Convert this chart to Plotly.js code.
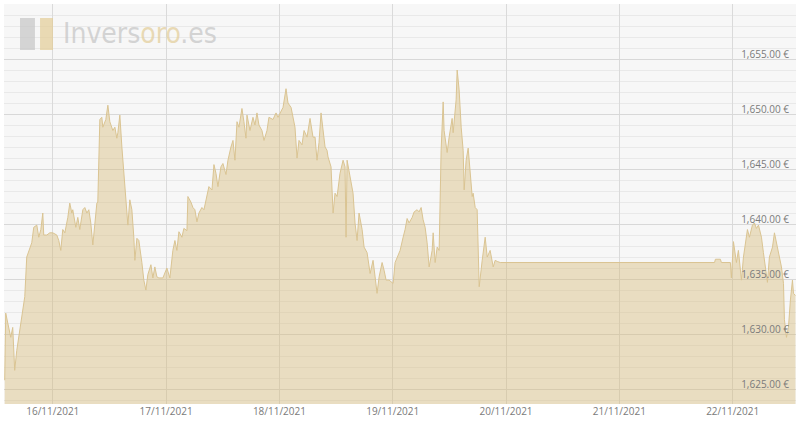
<!DOCTYPE html>
<html>
<head>
<meta charset="utf-8">
<script src="https://cdn.plot.ly/plotly-3.0.1.min.js"></script>
<style>
  html, body { margin: 0; padding: 0; background: #fff; }
  #grafico { width: 800px; height: 430px; }
</style>
</head>
<body>
<div id="grafico"></div>
<script>
// Precio del oro (EUR / onza), 15/11/2021 - 22/11/2021
const fechas = [
  "2021-11-15 13:49", "2021-11-15 14:02", "2021-11-15 14:28", "2021-11-15 15:06", "2021-11-15 15:31",
  "2021-11-15 15:56", "2021-11-15 16:22", "2021-11-15 17:00", "2021-11-15 17:38", "2021-11-15 18:04",
  "2021-11-15 18:29", "2021-11-15 18:55", "2021-11-15 19:33", "2021-11-15 19:58", "2021-11-15 20:37",
  "2021-11-15 21:02", "2021-11-15 21:28", "2021-11-15 21:53", "2021-11-15 22:05", "2021-11-15 22:44",
  "2021-11-15 23:22",
  "2021-11-16 00:00", "2021-11-16 00:51", "2021-11-16 01:16", "2021-11-16 01:42", "2021-11-16 02:07",
  "2021-11-16 02:33", "2021-11-16 03:11", "2021-11-16 03:36", "2021-11-16 04:02", "2021-11-16 04:14",
  "2021-11-16 04:53", "2021-11-16 05:18", "2021-11-16 05:43", "2021-11-16 06:22", "2021-11-16 06:47",
  "2021-11-16 07:13", "2021-11-16 07:38", "2021-11-16 08:03", "2021-11-16 08:29", "2021-11-16 08:54",
  "2021-11-16 09:20", "2021-11-16 09:32", "2021-11-16 09:58", "2021-11-16 10:23", "2021-11-16 10:36",
  "2021-11-16 11:14", "2021-11-16 11:40", "2021-11-16 12:05", "2021-11-16 12:43", "2021-11-16 13:09",
  "2021-11-16 13:34", "2021-11-16 13:47", "2021-11-16 14:12", "2021-11-16 14:38", "2021-11-16 15:03",
  "2021-11-16 15:29", "2021-11-16 15:54", "2021-11-16 16:19", "2021-11-16 16:45", "2021-11-16 17:10",
  "2021-11-16 17:23", "2021-11-16 17:49", "2021-11-16 18:14", "2021-11-16 18:52", "2021-11-16 19:17",
  "2021-11-16 19:43", "2021-11-16 20:08", "2021-11-16 20:47", "2021-11-16 21:12", "2021-11-16 21:37",
  "2021-11-16 22:03", "2021-11-16 22:28", "2021-11-16 23:19",
  "2021-11-17 00:10", "2021-11-17 00:48", "2021-11-17 01:26", "2021-11-17 01:52", "2021-11-17 02:17",
  "2021-11-17 02:43", "2021-11-17 03:21", "2021-11-17 03:46", "2021-11-17 04:25", "2021-11-17 04:37",
  "2021-11-17 05:15", "2021-11-17 05:41", "2021-11-17 06:06", "2021-11-17 06:32", "2021-11-17 06:57",
  "2021-11-17 07:35", "2021-11-17 08:01", "2021-11-17 08:39", "2021-11-17 09:04", "2021-11-17 09:43",
  "2021-11-17 10:08", "2021-11-17 10:34", "2021-11-17 10:59", "2021-11-17 11:37", "2021-11-17 12:02",
  "2021-11-17 12:41", "2021-11-17 13:06", "2021-11-17 13:44", "2021-11-17 14:10", "2021-11-17 14:35",
  "2021-11-17 15:01", "2021-11-17 15:26", "2021-11-17 16:04", "2021-11-17 16:29", "2021-11-17 16:55",
  "2021-11-17 17:08", "2021-11-17 17:46", "2021-11-17 18:24", "2021-11-17 18:49", "2021-11-17 19:15",
  "2021-11-17 19:40", "2021-11-17 20:18", "2021-11-17 20:44", "2021-11-17 21:22", "2021-11-17 21:47",
  "2021-11-17 22:38", "2021-11-17 23:17", "2021-11-17 23:42",
  "2021-11-18 00:20", "2021-11-18 00:46", "2021-11-18 01:24", "2021-11-18 01:49", "2021-11-18 02:28",
  "2021-11-18 02:53", "2021-11-18 03:18", "2021-11-18 03:44", "2021-11-18 04:09", "2021-11-18 04:47",
  "2021-11-18 05:13", "2021-11-18 05:51", "2021-11-18 06:29", "2021-11-18 07:07", "2021-11-18 07:33",
  "2021-11-18 07:58", "2021-11-18 08:23", "2021-11-18 08:49", "2021-11-18 09:14", "2021-11-18 09:40",
  "2021-11-18 10:05", "2021-11-18 10:18", "2021-11-18 10:56", "2021-11-18 11:22", "2021-11-18 11:47",
  "2021-11-18 12:13", "2021-11-18 12:50", "2021-11-18 13:29", "2021-11-18 13:54", "2021-11-18 14:07",
  "2021-11-18 14:20", "2021-11-18 14:58", "2021-11-18 15:36", "2021-11-18 16:01", "2021-11-18 16:27",
  "2021-11-18 16:52", "2021-11-18 17:31", "2021-11-18 17:56", "2021-11-18 18:34", "2021-11-18 19:13",
  "2021-11-18 19:50", "2021-11-18 20:16", "2021-11-18 20:41", "2021-11-18 21:07", "2021-11-18 21:45",
  "2021-11-18 22:10", "2021-11-18 22:36", "2021-11-18 23:14",
  "2021-11-19 00:05", "2021-11-19 00:30", "2021-11-19 00:56", "2021-11-19 01:34", "2021-11-19 02:12",
  "2021-11-19 02:37", "2021-11-19 03:03", "2021-11-19 03:28", "2021-11-19 04:07", "2021-11-19 04:32",
  "2021-11-19 05:10", "2021-11-19 05:35", "2021-11-19 06:01", "2021-11-19 06:26", "2021-11-19 06:52",
  "2021-11-19 07:17", "2021-11-19 07:43", "2021-11-19 08:21", "2021-11-19 08:34", "2021-11-19 08:59",
  "2021-11-19 09:25", "2021-11-19 09:50", "2021-11-19 10:15", "2021-11-19 10:41", "2021-11-19 10:53",
  "2021-11-19 11:32", "2021-11-19 11:57", "2021-11-19 12:35", "2021-11-19 12:48", "2021-11-19 13:26",
  "2021-11-19 13:39", "2021-11-19 14:04", "2021-11-19 14:30", "2021-11-19 14:55", "2021-11-19 15:08",
  "2021-11-19 15:33", "2021-11-19 15:59", "2021-11-19 16:24", "2021-11-19 16:50", "2021-11-19 17:02",
  "2021-11-19 17:28", "2021-11-19 17:53", "2021-11-19 18:19", "2021-11-19 18:57", "2021-11-19 19:35",
  "2021-11-19 20:01", "2021-11-19 20:38", "2021-11-19 21:17", "2021-11-19 21:42", "2021-11-19 22:08",
  "2021-11-19 22:46",
  "2021-11-21 20:10", "2021-11-21 20:21", "2021-11-21 21:24", "2021-11-21 21:37", "2021-11-21 23:31",
  "2021-11-21 23:44",
  "2021-11-22 00:10", "2021-11-22 00:48", "2021-11-22 01:13", "2021-11-22 01:52", "2021-11-22 02:17",
  "2021-11-22 02:42", "2021-11-22 03:08", "2021-11-22 03:33", "2021-11-22 04:11", "2021-11-22 04:37",
  "2021-11-22 05:02", "2021-11-22 05:28", "2021-11-22 06:06", "2021-11-22 06:31", "2021-11-22 06:56",
  "2021-11-22 07:22", "2021-11-22 07:47", "2021-11-22 08:26", "2021-11-22 08:51", "2021-11-22 09:29",
  "2021-11-22 09:55", "2021-11-22 10:20", "2021-11-22 10:46", "2021-11-22 10:58", "2021-11-22 11:24",
  "2021-11-22 11:49", "2021-11-22 12:14", "2021-11-22 12:40", "2021-11-22 12:53", "2021-11-22 13:18"
];

const precios = [
  1625.8, 1631.9, 1631.0, 1629.7, 1630.6, 1626.7, 1628.5, 1630.4, 1632.5, 1633.4,
  1637.0, 1637.6, 1638.3, 1639.7, 1639.9, 1638.8, 1639.5, 1641.0, 1639.0, 1639.0,
  1639.2,
  1639.2, 1639.0, 1638.5, 1637.6, 1639.5, 1639.2, 1640.6, 1641.9, 1641.0, 1641.3,
  1639.7, 1640.6, 1639.5, 1641.3, 1641.5, 1641.0, 1641.3, 1640.1, 1638.1, 1639.7,
  1641.9, 1642.0, 1649.5, 1649.7, 1648.8, 1649.5, 1650.8, 1649.3, 1648.5, 1648.8,
  1647.8, 1648.3, 1649.9, 1647.0, 1644.9, 1642.2, 1639.9, 1642.2, 1641.3, 1638.8,
  1636.7, 1638.7, 1638.5, 1636.5, 1634.9, 1634.0, 1635.4, 1636.3, 1635.1, 1636.1,
  1635.2, 1635.1, 1635.1,
  1636.0, 1635.1, 1637.6, 1638.5, 1637.6, 1639.3, 1638.8, 1639.6, 1639.4, 1642.5,
  1642.0, 1641.5, 1641.3, 1640.2, 1641.0, 1641.5, 1641.3, 1642.5, 1643.4, 1643.1,
  1645.4, 1644.6, 1643.4, 1645.2, 1645.5, 1644.5, 1645.8, 1647.0, 1647.6, 1645.8,
  1649.3, 1648.8, 1650.5, 1649.3, 1647.8, 1649.9, 1648.5, 1649.7, 1649.0, 1650.1,
  1649.0, 1648.5, 1647.6, 1648.5, 1649.7, 1649.5, 1650.1, 1649.7,
  1650.2, 1650.6, 1652.3, 1651.0, 1650.6, 1649.6, 1648.8, 1646.0, 1647.6, 1647.2,
  1648.5, 1647.9, 1649.6, 1647.9, 1647.9, 1645.8, 1647.4, 1650.1, 1648.3, 1647.0,
  1646.7, 1646.1, 1645.2, 1641.0, 1642.8, 1642.5, 1644.6, 1645.8, 1645.2, 1638.8,
  1645.8, 1644.3, 1642.8, 1640.1, 1638.5, 1641.0, 1639.5, 1637.9, 1637.4, 1635.5,
  1636.7, 1635.2, 1633.7, 1635.2, 1636.5, 1635.8, 1634.9, 1634.9,
  1634.6, 1636.5, 1637.0, 1637.6, 1638.8, 1639.5, 1640.5, 1640.1, 1640.6, 1641.1,
  1641.3, 1641.1, 1641.5, 1640.4, 1639.7, 1638.3, 1636.1, 1637.6, 1639.2, 1636.5,
  1637.9, 1637.6, 1646.7, 1651.1, 1648.5, 1646.5, 1647.9, 1649.6, 1648.3, 1651.3,
  1654.0, 1652.2, 1648.8, 1646.7, 1643.1, 1645.8, 1646.9, 1644.3, 1642.5, 1642.8,
  1641.5, 1641.3, 1634.3, 1636.7, 1638.8, 1637.0, 1637.6, 1636.1, 1636.7, 1636.6,
  1636.5,
  1636.5, 1636.8, 1636.8, 1636.5, 1636.5, 1635.1,
  1638.4, 1636.5, 1637.6, 1634.9, 1637.0, 1638.3, 1639.5, 1638.8, 1639.9, 1640.1,
  1639.6, 1639.9, 1638.8, 1637.4, 1636.1, 1634.7, 1637.0, 1637.9, 1639.2, 1637.9,
  1636.7, 1636.1, 1634.6, 1631.3, 1629.7, 1630.6, 1633.1, 1634.9, 1633.7, 1633.5
];

const rangoFechas = ["2021-11-15 13:40", "2021-11-22 13:25"];
const rangoPrecios = [1623.64, 1660];

const grisLogo = "rgba(196,196,196,0.7)";
const oroLogo = "rgba(226,204,150,0.7)";

const traza = {
  x: fechas,
  y: precios,
  type: "scatter",
  mode: "lines",
  fill: "tozeroy",
  fillcolor: "rgba(214,185,120,0.42)",
  line: { color: "rgb(218,196,146)", width: 1 },
  hoverinfo: "x+y",
  showlegend: false,
};

const layout = {
  width: 800,
  height: 430,
  margin: { t: 4, r: 4, b: 26, l: 4 },
  paper_bgcolor: "#ffffff",
  plot_bgcolor: "#f7f7f7",
  font: { family: "Open Sans, DejaVu Sans, sans-serif", color: "#888", size: 10 },
  xaxis: {
    type: "date",
    range: rangoFechas,
    tick0: "2021-11-16",
    dtick: 86400000,
    tickformat: "%d/%m/%Y",
    showgrid: true,
    gridcolor: "#dadada",
    gridwidth: 1,
    zeroline: false,
    showline: false,
    ticks: "",
    tickfont: { size: 10, color: "#7a7a7a" },
  },
  yaxis: {
    range: rangoPrecios,
    side: "right",
    ticklabelposition: "inside",
    tick0: 1625,
    dtick: 5,
    tickformat: ",.2f",
    ticksuffix: " €",
    showgrid: true,
    gridcolor: "#d8d8d8",
    zeroline: false,
    showline: false,
    ticks: "",
    ticklabelstandoff: 4,
    ticklabelshift: -5,
    tickfont: { size: 10, color: "#7a7a7a" },
    minor: { dtick: 1, showgrid: true, gridcolor: "#e9e9e9", gridwidth: 1 },
  },
  shapes: [
    { type: "rect", xref: "paper", yref: "paper", x0: 0.0202, x1: 0.0391, y0: 0.885, y1: 0.965,
      fillcolor: grisLogo, line: { width: 0 } },
    { type: "rect", xref: "paper", yref: "paper", x0: 0.0455, x1: 0.0619, y0: 0.885, y1: 0.965,
      fillcolor: oroLogo, line: { width: 0 } },
  ],
  annotations: [
    {
      xref: "paper", yref: "paper", x: 0.072, y: 0.925,
      xanchor: "left", yanchor: "middle", showarrow: false,
      text: "<span style='color:" + grisLogo + "'>Invers</span><span style='color:" + oroLogo +
        "'>oro</span><span style='color:" + grisLogo + "'>.es</span>",
      font: { family: "Liberation Sans Narrow, DejaVu Sans Condensed, sans-serif", size: 28 },
    },
  ],
  hovermode: "closest",
  dragmode: false,
};

Plotly.newPlot("grafico", [traza], layout, { displayModeBar: false, staticPlot: true });
</script>
</body>
</html>
